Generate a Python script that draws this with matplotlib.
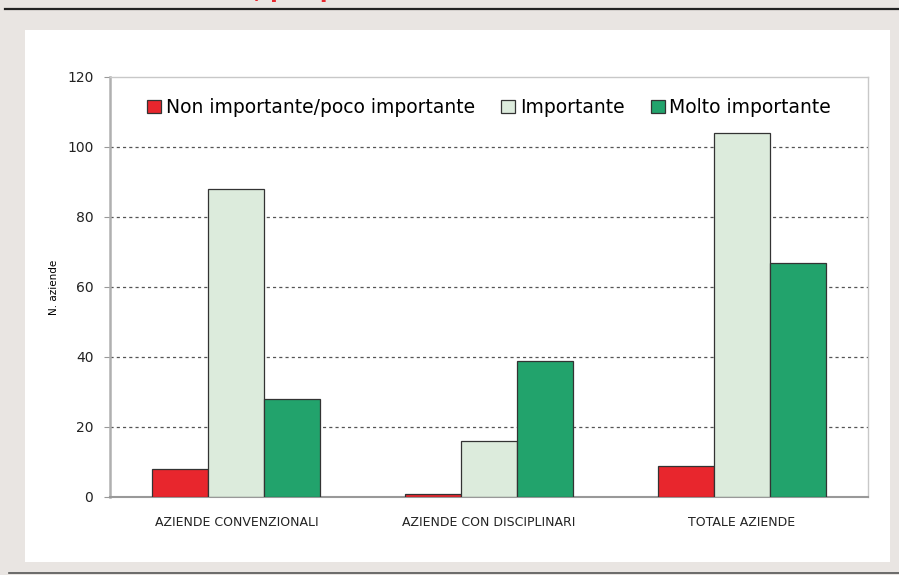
import numpy as np
import matplotlib.pyplot as plt
from matplotlib.patches import Rectangle

# dati
categorie = ["AZIENDE CONVENZIONALI", "AZIENDE CON DISCIPLINARI", "TOTALE AZIENDE"]
serie = ["Non importante/poco importante", "Importante", "Molto importante"]
non_importante = [8, 1, 9]
importante = [88, 16, 104]
molto_importante = [28, 39, 67]
colori = ["#e8262d", "#dcebdc", "#22a36c"]
yticks = [0, 20, 40, 60, 80, 100, 120]

plt.rcParams["font.family"] = "DejaVu Sans"

fig = plt.figure(figsize=(8.99, 5.75), dpi=100)
fig.patch.set_facecolor("#e9e5e2")

# pannello bianco e linee della pagina
fig.patches.append(Rectangle((0.0278, 0.0226), 0.962, 0.925, transform=fig.transFigure,
                             facecolor="white", edgecolor="none", zorder=-5))
fig.add_artist(plt.Line2D([0.006, 1.0], [1 - 9 / 575, 1 - 9 / 575], color="#222222", lw=1.6))
fig.add_artist(plt.Line2D([0.01, 1.0], [1 - 573 / 575, 1 - 573 / 575], color="#555555", lw=1.2))
# titolo tagliato in alto (si vedono solo le parti basse)
fig.text(254 / 899, 1 + 2 / 575, ", per p", color="#e8262d", fontsize=16, fontweight="bold",
         ha="left", va="baseline")

ax = fig.add_axes([110 / 899, 1 - 497 / 575, (868 - 110) / 899, (497 - 77) / 575])
ax.set_facecolor("white")

x = np.arange(len(categorie))
w = 0.222
valori = [non_importante, importante, molto_importante]
for i, (nome, v, c) in enumerate(zip(serie, valori, colori)):
    ax.bar(x + (i - 1) * w, v, width=w, color=c, edgecolor="#333333", linewidth=0.9,
           label=nome, zorder=3)

ax.set_xlim(-0.5, 2.5)
ax.set_ylim(0, 120)
ax.set_yticks(yticks)
ax.set_yticklabels([str(t) for t in yticks], fontsize=10, color="#222222")
ax.set_xticks(x)
ax.set_xticklabels(categorie, fontsize=9, color="#222222")
ax.tick_params(axis="y", length=4, color="#999999", pad=8)
ax.tick_params(axis="x", length=0, pad=14)

for t in yticks[1:-1]:
    ax.axhline(t, color="#555555", lw=0.9, ls=(0, (2.5, 2.5)), zorder=1)

for s in ["top", "right", "left"]:
    ax.spines[s].set_color("#c8c8c8")
    ax.spines[s].set_linewidth(1.0)
ax.spines["left"].set_color("#b0b0b0")
ax.spines["left"].set_linewidth(1.8)
ax.spines["bottom"].set_color("#999999")
ax.spines["bottom"].set_linewidth(1.5)

ax.set_ylabel("N. aziende", fontsize=7.5, labelpad=6)

leg = ax.legend(loc="upper center", bbox_to_anchor=(0.5, 0.99), ncol=3, frameon=False,
                fontsize=13.5, handlelength=0.75, handleheight=0.75, handletextpad=0.25,
                columnspacing=1.4)

fig.savefig("out.png", dpi=100, facecolor=fig.get_facecolor())
